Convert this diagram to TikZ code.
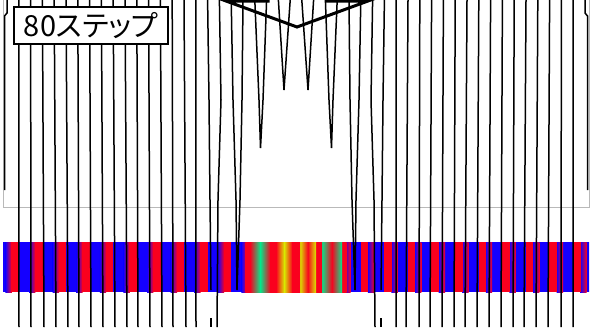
\documentclass[tikz,border=0pt]{standalone}
\usepackage{fontspec}
\newfontfamily\jpfont[RawFeature=+palt]{Noto Sans CJK JP}
\definecolor{bblue}{RGB}{20,0,255}
\definecolor{bred}{RGB}{250,0,30}
\definecolor{bgreen}{RGB}{0,235,140}
\definecolor{byellow}{RGB}{215,235,0}
\definecolor{framegray}{RGB}{185,185,185}
\begin{document}
\begin{tikzpicture}[x=1pt,y=-1pt,
  wave/.style={line width=1.5pt, black},
  halfpart/.style={},
  mirrorpart/.style={shift={(592,0)}, xscale=-1}]
\useasboundingbox (0,0) rectangle (604,327);
\fill[white] (0,0) rectangle (604,327);
% frame of the upper field
\draw[framegray, line width=1pt] (3,-5) rectangle (589,207);
% colour band (left half, then mirrored)
\foreach \side in {halfpart,mirrorpart}{
\begin{scope}[\side]
  \clip (3,242) rectangle (296.4,292);
  \foreach \k in {-1,...,9}{
    \pgfmathsetmacro\J{19+23.6*\k}
    \fill[bblue] (\J,242) rectangle ({\J+10.4},292);
    \shade[left color=bblue, right color=bred] ({\J+10},242) rectangle ({\J+16.4},292);
    \fill[bred] ({\J+16},242) rectangle ({\J+23.8},292);
  }
  \foreach \x/\c [remember=\x as \px (initially 245.4), remember=\c as \pc (initially bred)] in
    {250/bred,260/bgreen,270/bred,276/bred,284/byellow,292/bred,297/bred}{
    \shade[left color=\pc, right color=\c] (\px,242) rectangle ({\x+0.4},292);
  }
\end{scope}
}
% field lines (left half, then mirrored)
\foreach \side in {halfpart,mirrorpart}{
\begin{scope}[\side]
  \draw[wave] (7,0) -- (7,13) -- (4.5,16) -- (4.5,190);
  \foreach \xt/\xb in {18.8/19,30.6/31,42.4/44,54.2/56,66/68,77.8/79,89.6/91,101.4/103,
      113.2/115,125/127,136.8/138,148.6/150,160.4/162,172.2/173,184/186,195.8/196}{
    \draw[wave] (\xt,0) -- (\xb,327);
  }
  \draw[wave] (207.6,0) -- (209,100) -- (210,200) -- (211,290);
  \draw[wave] (211,318) -- (211,327);
  \draw[wave] (219.4,0) -- (221,100) -- (218,200) -- (217,327);
  \draw[wave] (231.2,0) -- (233,100) -- (236,200) -- (237,290) -- (240,200) -- (242,100) -- (243,0);
  \draw[wave] (254.8,0) -- (259,100) -- (260.5,148) -- (263,100) -- (266.6,0);
  \draw[wave] (278.4,0) -- (284,90) -- (290.2,0);
\end{scope}
}
% label
\node[draw=black, line width=2pt, fill=white, inner sep=0pt,
      minimum width=154pt, minimum height=37pt, anchor=north west,
      font=\jpfont\fontsize{29}{29}\selectfont] (label) at (13,6) {80ステップ};
% big arrow (lower part of its head)
\draw[line width=3pt, line join=miter] (268,-20) -- (268,1) -- (226,1) -- (297,27)
   -- (368,1) -- (327,1) -- (327,-20);
\end{tikzpicture}
\end{document}
